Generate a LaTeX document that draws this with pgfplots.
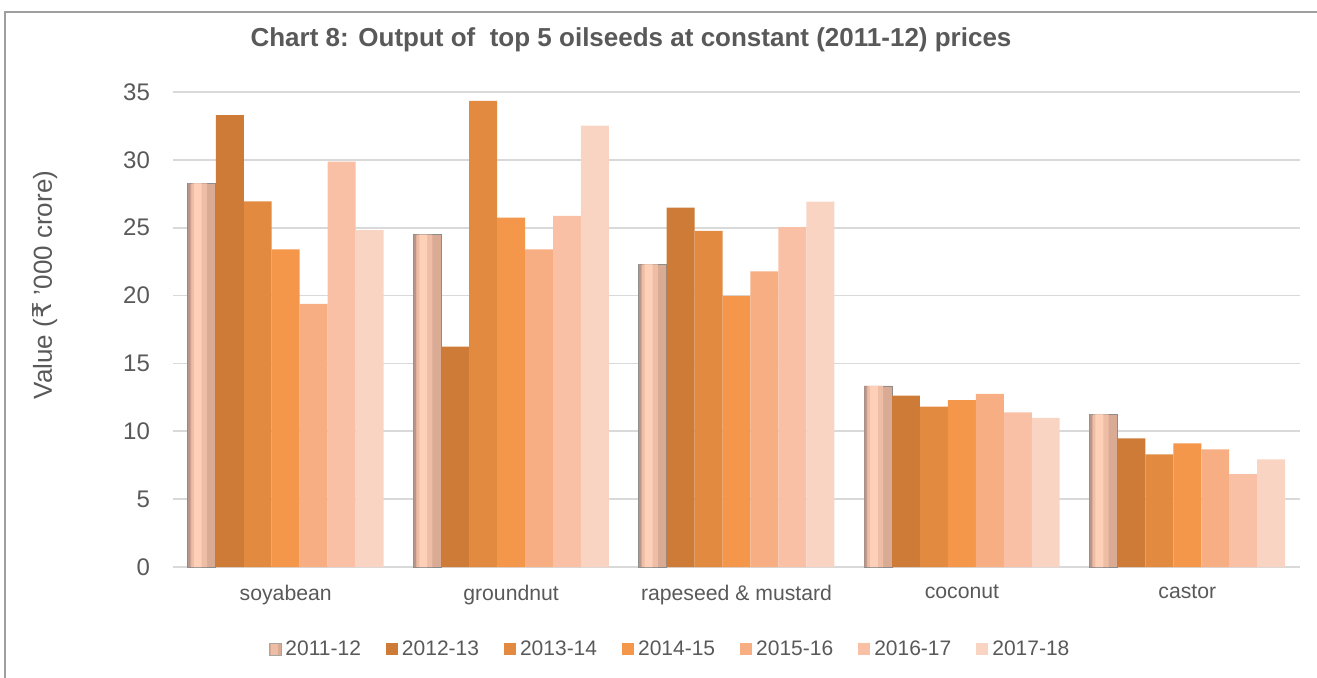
\documentclass[border=0pt]{standalone}
\usepackage{pgfplots}
\pgfplotsset{compat=1.18}
\usepackage{fontspec}
\setmainfont{Liberation Sans}
\newfontfamily\dejavu{DejaVu Sans}
\definecolor{txt}{HTML}{595959}
\definecolor{gridc}{HTML}{D9D9D9}
\definecolor{cB}{HTML}{CD7B37}
\definecolor{cC}{HTML}{E28A40}
\definecolor{cD}{HTML}{F5974A}
\definecolor{cE}{HTML}{F7AE82}
\definecolor{cF}{HTML}{F9C0A5}
\definecolor{cG}{HTML}{F9D4C3}
\definecolor{aDark}{HTML}{B8968A}
\definecolor{aBase}{HTML}{D9AA94}
\definecolor{aMid}{HTML}{EDBDA5}
\definecolor{aHi}{HTML}{FFD0B8}
\pgfplotstableread{
x  a      b      c      d      e      f      g
0  28.27  33.30  26.95  23.40  19.38  29.87  24.83
1  24.50  16.23  34.34  25.74  23.40  25.87  32.52
2  22.30  26.48  24.76  19.97  21.79  25.05  26.92
3  13.34  12.62  11.81  12.30  12.75  11.40  10.98
4  11.25   9.48   8.30   9.11   8.67   6.85   7.93
}\datatable
\begin{document}
\begin{tikzpicture}
\path[use as bounding box] (-86.5pt,-55pt) rectangle (572pt,283.5pt);
\draw[gray!75, line width=1pt] (-84pt,-56pt) -- (-84pt,277.5pt) -- (573pt,277.5pt);
\begin{axis}[
  at={(0,0)}, anchor=south west, scale only axis,
  width=563.5pt, height=237.5pt,
  ybar=0pt, bar width=0.124,
  xmin=-0.5, xmax=4.5, ymin=0, ymax=35,
  ytick={0,5,...,35}, xtick={0,1,2,3,4},
  xticklabels={soyabean, groundnut, rapeseed \& mustard, coconut, castor},
  axis line style={draw=none}, major tick length=0pt,
  ymajorgrids, grid style={gridc, line width=0.9pt},
  tick label style={text=txt},
  yticklabel style={font=\fontsize{12}{14}\selectfont, xshift=-8pt},
  xticklabel style={font=\fontsize{10.6}{12}\selectfont, yshift=-5.5pt},
  /pgf/number format/assume math mode=true,
  legend columns=7,
  legend style={draw=none, fill=none, at={(0.442,-0.173)}, anchor=center,
    font=\fontsize{10.5}{12}\selectfont, text=txt,
    /tikz/every even column/.append style={column sep=10.5pt}},
  legend image code/.code={\path[#1] (0pt,-3pt) rectangle (6pt,3pt);},
]
\addplot[fill=aBase, draw=black!45, line width=0.4pt, bar shift=-0.372,
  legend image code/.code={\path[fill=aBase, draw=black!35, line width=0.3pt] (0pt,-3pt) rectangle (6pt,3pt);
     \fill[aMid] (1pt,-2.5pt) rectangle (4pt,2.5pt);}]
  table[x=x, y=a] {\datatable};
\addplot[fill=aMid, draw=none, bar width=0.07, bar shift=-0.384, forget plot] table[x=x, y=a] {\datatable};
\addplot[fill=aHi, draw=none, bar width=0.035, bar shift=-0.39, forget plot] table[x=x, y=a] {\datatable};
\addplot[fill=aDark, draw=none, bar width=0.01, bar shift=-0.428, forget plot] table[x=x, y=a] {\datatable};
\addplot[fill=cB, draw=none, bar shift=-0.248] table[x=x, y=b] {\datatable};
\addplot[fill=cC, draw=none, bar shift=-0.124] table[x=x, y=c] {\datatable};
\addplot[fill=cD, draw=none, bar shift=0] table[x=x, y=d] {\datatable};
\addplot[fill=cE, draw=none, bar shift=0.124] table[x=x, y=e] {\datatable};
\addplot[fill=cF, draw=none, bar shift=0.248] table[x=x, y=f] {\datatable};
\addplot[fill=cG, draw=none, bar shift=0.372] table[x=x, y=g] {\datatable};
\legend{2011-12,2012-13,2013-14,2014-15,2015-16,2016-17,2017-18}
\end{axis}
\node[text=txt, font=\fontsize{13}{15}\selectfont\bfseries] at (229pt,263.5pt) {Chart 8: Output of\ \ top 5 oilseeds at constant (2011-12) prices};
\node[text=txt, rotate=90, font=\fontsize{13}{15}\selectfont] at (-64pt,141pt) {Value ({\dejavu ₹} '000 crore)};
\end{tikzpicture}
\end{document}
